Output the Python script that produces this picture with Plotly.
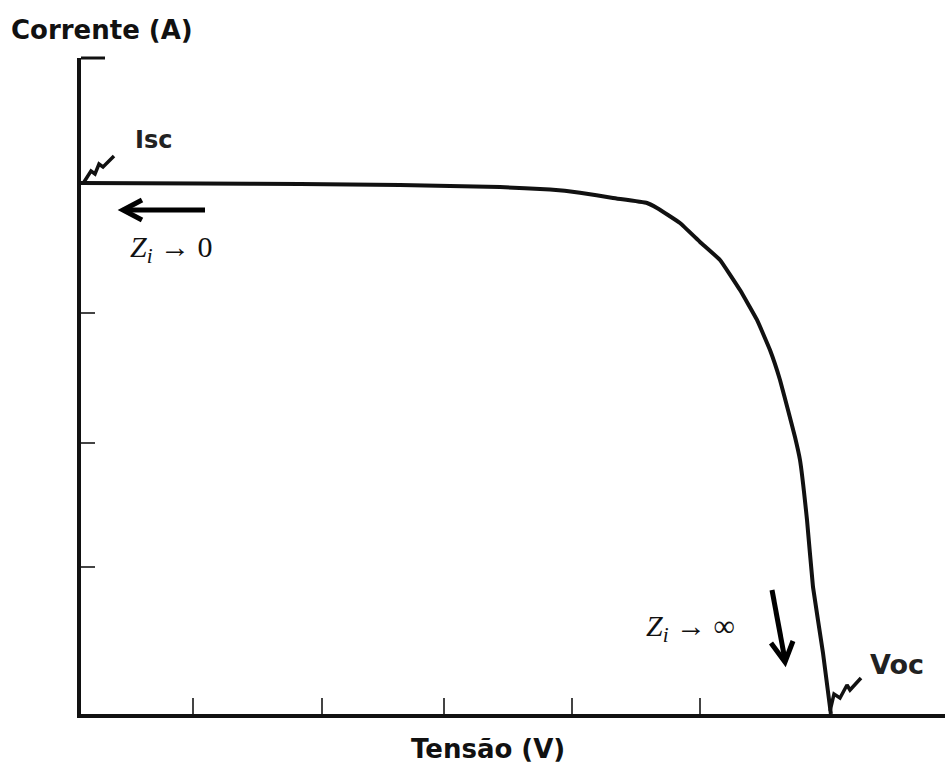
import plotly.graph_objects as go

# I-V curve data (voltage in V, current in A; arbitrary units)
tensao = [0, 3.306, 6.083, 8.861, 10.25, 11.639, 13.028, 13.861, 14.778, 15.722, 16.0,
          16.639, 17.194, 17.75, 18.306, 18.778, 19.139, 19.417, 19.639, 19.833, 19.972,
          20.167, 20.333, 20.611, 20.83]
corrente = [3.000, 2.997, 2.994, 2.989, 2.983, 2.977, 2.963, 2.945, 2.915, 2.887, 2.859,
            2.774, 2.667, 2.565, 2.395, 2.226, 2.056, 1.887, 1.718, 1.565, 1.435,
            1.096, 0.718, 0.345, 0.0]

x_ticks = [3.11, 6.69, 10.08, 13.64, 17.19]
y_ticks = [0.831, 1.531, 2.266]
x_max = 24.0
y_max = 3.706

W, H = 945, 764
L, T, B = 81, 58, 50
pw, ph = W - L, H - T - B


def px2d(px, py):
    return (px - L) / pw * x_max, (H - B - py) / ph * y_max


def px2p(px, py):
    return (px - L) / pw, (H - B - py) / ph


fig = go.Figure()
fig.add_trace(go.Scatter(x=tensao, y=corrente, mode="lines",
                         line=dict(color="#111111", width=4, shape="spline", smoothing=0.3),
                         hoverinfo="skip", showlegend=False))

# squiggle marks at Isc and Voc
sq_isc = [(84, 182), (91, 171), (95, 174), (99, 164), (103, 167), (114, 156)]
sq_voc = [(830, 711), (834, 694), (840, 698), (847, 685), (850, 690), (861, 678)]
for sq in (sq_isc, sq_voc):
    pts = [px2d(a, b) for a, b in sq]
    fig.add_trace(go.Scatter(x=[p[0] for p in pts], y=[p[1] for p in pts], mode="lines",
                             line=dict(color="#111111", width=3.5),
                             hoverinfo="skip", showlegend=False))

sans = "DejaVu Sans, Arial, sans-serif"
serif = "Liberation Serif, DejaVu Serif, serif"


def pann(text, px, py, size, family, color="#111111"):
    x, y = px2p(px, py)
    return dict(text=text, xref="paper", yref="paper", x=x, y=y, showarrow=False,
                xanchor="center", yanchor="middle",
                font=dict(family=family, size=size, color=color))


ann = [
    pann("<b>Corrente (A)</b>", 102, 30, 26, sans),
    pann("<b>Tensão (V)</b>", 488, 749, 26, sans),
    pann("<b>Isc</b>", 153, 140, 24, sans, "#222222"),
    pann("<b>Voc</b>", 897, 664, 27, sans, "#222222"),
    pann("<i>Z</i><sub><i>i</i></sub> → 0", 171, 249, 30, serif),
    pann("<i>Z</i><sub><i>i</i></sub> → ∞", 690, 628, 30, serif),
]


def seg(p0, p1, width, color="#000000"):
    x0, y0 = px2p(*p0)
    x1, y1 = px2p(*p1)
    return dict(type="line", xref="paper", yref="paper", x0=x0, y0=y0, x1=x1, y1=y1,
                line=dict(color=color, width=width))


def chevron(a, tip, b, width):
    pts = [px2p(*a), px2p(*tip), px2p(*b)]
    path = "M {} {} L {} {} L {} {}".format(pts[0][0], pts[0][1], pts[1][0], pts[1][1],
                                            pts[2][0], pts[2][1])
    return dict(type="path", xref="paper", yref="paper", path=path,
                line=dict(color="#000000", width=width))


shapes = [
    # small cap at top of the current axis
    seg((81, 58), (105, 58), 3, "#111111"),
    # arrow Zi -> 0
    seg((124, 210), (205, 210), 5),
    chevron((142, 200), (123, 210), (142, 220), 5),
    # arrow Zi -> inf
    seg((772, 590), (785, 660), 5),
    chevron((771, 643), (785, 662), (793, 641), 5),
]

fig.update_layout(
    width=W, height=H,
    margin=dict(l=L, r=0, t=T, b=B, pad=0),
    plot_bgcolor="white", paper_bgcolor="white",
    annotations=ann,
    shapes=shapes,
)
fig.update_xaxes(range=[0, x_max], showgrid=False, zeroline=False, showline=True,
                 linecolor="#111111", linewidth=4, ticks="inside", tickvals=x_ticks,
                 ticklen=16, tickwidth=1.5, tickcolor="#444444", showticklabels=False)
fig.update_yaxes(range=[0, y_max], showgrid=False, zeroline=False, showline=True,
                 linecolor="#111111", linewidth=4, ticks="inside", tickvals=y_ticks,
                 ticklen=14, tickwidth=1.5, tickcolor="#444444", showticklabels=False)

fig.write_html("out.html", config={"displayModeBar": False},
               post_script="document.body.style.margin='0';document.body.style.overflow='hidden';")
